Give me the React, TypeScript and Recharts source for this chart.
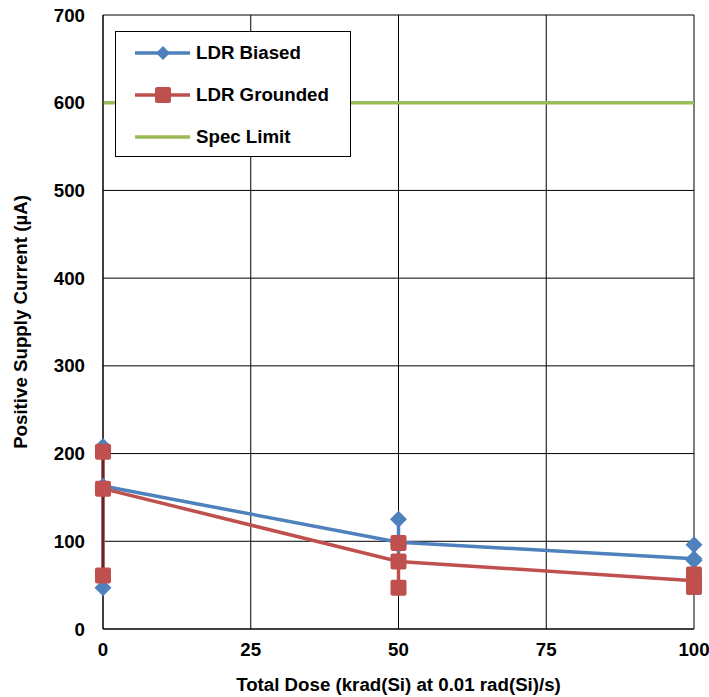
import React from "react";
import {
  ComposedChart,
  Line,
  Scatter,
  ErrorBar,
  XAxis,
  YAxis,
  CartesianGrid,
  Legend,
} from "recharts";

const doses = [0, 50, 100];
const doseTicks = [0, 25, 50, 75, 100];
const currentTicks = [0, 100, 200, 300, 400, 500, 600, 700];

const biasedMean = [163, 99, 80];
const biasedMin = [47, 96, 78];
const biasedMax = [208, 125, 96];

const groundedMean = [160, 77, 55];
const groundedMin = [61, 47, 48];
const groundedMax = [202, 98, 62];

const specLimit = 600;

const BLUE = "#4F81BD";
const RED = "#C0504D";
const GREEN = "#9BBB59";
const FONT = "'Liberation Sans', Arial, sans-serif";

const meanRows = (mean: number[], min: number[], max: number[]) =>
  doses.map((x, i) => ({
    x,
    y: mean[i],
    err: [mean[i] - min[i], max[i] - mean[i]],
  }));

const markerRows = (mean: number[], min: number[], max: number[]) =>
  doses.flatMap((x, i) => [
    { x, y: min[i] },
    { x, y: mean[i] },
    { x, y: max[i] },
  ]);

const biasedLine = meanRows(biasedMean, biasedMin, biasedMax);
const biasedPts = markerRows(biasedMean, biasedMin, biasedMax);
const groundedLine = meanRows(groundedMean, groundedMin, groundedMax);
const groundedPts = markerRows(groundedMean, groundedMin, groundedMax);
const specRows = [
  { x: doseTicks[0], y: specLimit },
  { x: doseTicks[doseTicks.length - 1], y: specLimit },
];

const Diamond = (props: any) => {
  const { cx, cy } = props;
  const r = 8.5;
  return (
    <path
      d={`M${cx},${cy - r} L${cx + r},${cy} L${cx},${cy + r} L${cx - r},${cy} Z`}
      fill={BLUE}
    />
  );
};

const Square = (props: any) => {
  const { cx, cy } = props;
  const s = 16;
  return (
    <rect x={cx - s / 2} y={cy - s / 2} width={s} height={s} rx={2} fill={RED} />
  );
};

const LegendBox = () => {
  const row = (label: string, color: string, marker?: "diamond" | "square") => (
    <div style={{ display: "flex", alignItems: "center", height: 42 }}>
      <svg width={80} height={20} style={{ display: "block" }}>
        <line x1={19} y1={10} x2={74} y2={10} stroke={color} strokeWidth={3.5} />
        {marker === "diamond" && (
          <path d="M47,3 L54,10 L47,17 L40,10 Z" fill={color} />
        )}
        {marker === "square" && (
          <rect x={39} y={2} width={16} height={16} rx={2} fill={color} />
        )}
      </svg>
      <span style={{ fontWeight: "bold", fontSize: 18.7, fontFamily: FONT, color: "#000" }}>
        {label}
      </span>
    </div>
  );
  return (
    <div
      style={{
        width: 234,
        height: 124,
        border: "1px solid #000",
        background: "#fff",
        paddingTop: 0,
        boxSizing: "content-box",
      }}
    >
      {row("LDR Biased", BLUE, "diamond")}
      {row("LDR Grounded", RED, "square")}
      {row("Spec Limit", GREEN)}
    </div>
  );
};

export default function App() {
  const tickStyle = { fontSize: 18.7, fontWeight: "bold", fontFamily: FONT, fill: "#000" };
  return (
    <div style={{ position: "absolute", left: 0, top: 0, background: "#fff" }}>
      <ComposedChart
        width={709}
        height={697}
        margin={{ top: 15, right: 15, bottom: 0, left: 0 }}
      >
        <CartesianGrid stroke="#000" strokeWidth={1} ticks={undefined} />
        <XAxis
          type="number"
          dataKey="x"
          domain={[0, 100]}
          ticks={doseTicks}
          height={68}
          tickLine={false}
          tickSize={0}
          tickMargin={14}
          stroke="#000"
          tick={tickStyle}
          allowDuplicatedCategory={false}
          label={{
            value: "Total Dose (krad(Si) at 0.01 rad(Si)/s)",
            position: "insideBottom",
            offset: 6,
            style: { ...tickStyle },
          }}
        />
        <YAxis
          type="number"
          dataKey="y"
          domain={[0, 700]}
          ticks={currentTicks}
          width={103}
          tickLine={false}
          tickSize={0}
          tickMargin={18}
          stroke="#000"
          tick={tickStyle}
          label={{
            value: "Positive Supply Current (µA)",
            angle: -90,
            position: "insideLeft",
            offset: 20,
            style: { ...tickStyle, textAnchor: "middle" },
          }}
        />
        <Legend
          layout="vertical"
          align="center"
          verticalAlign="middle"
          wrapperStyle={{ left: 115, top: 31, width: 236, height: 126 }}
          content={() => <LegendBox />}
        />
        <Line
          data={specRows}
          dataKey="y"
          stroke={GREEN}
          strokeWidth={3.5}
          dot={false}
          isAnimationActive={false}
        />
        <Line
          data={biasedLine}
          dataKey="y"
          stroke={BLUE}
          strokeWidth={3.5}
          dot={false}
          isAnimationActive={false}
        >
          <ErrorBar dataKey="err" width={0} stroke={BLUE} strokeWidth={3.5} direction="y" />
        </Line>
        <Scatter
          data={biasedPts}
          dataKey="y"
          shape={<Diamond />}
          isAnimationActive={false}
        />
        <Line
          data={groundedLine}
          dataKey="y"
          stroke={RED}
          strokeWidth={3.5}
          dot={false}
          isAnimationActive={false}
        >
          <ErrorBar dataKey="err" width={0} stroke={RED} strokeWidth={3.5} direction="y" />
        </Line>
        <Scatter
          data={groundedPts}
          dataKey="y"
          shape={<Square />}
          isAnimationActive={false}
        />
      </ComposedChart>
    </div>
  );
}
